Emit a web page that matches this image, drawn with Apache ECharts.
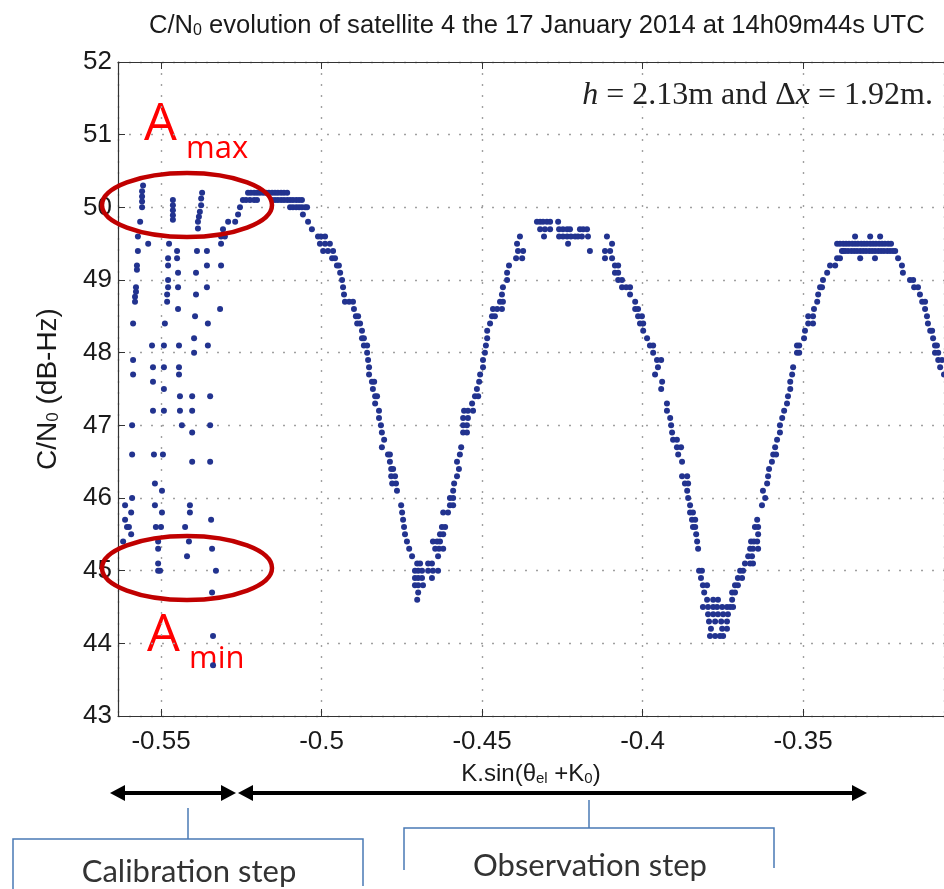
<!DOCTYPE html>
<html><head><meta charset="utf-8">
<script src="https://cdn.jsdelivr.net/npm/echarts@6/dist/echarts.min.js"></script>
<style>html,body{margin:0;padding:0;background:#fff}#c{width:944px;height:889px}</style>
</head><body><div id="c"></div>
<script>
// ---- axis settings ----
const xMin = -0.5634, xMax = -0.3061;
const yMin = 43, yMax = 52, yStep = 1;

// ---- calibration step points [K.sin(theta_el+K0), C/N0] ----
const calPoints = [
[-0.5556,50.3],[-0.5559,50.22],[-0.5559,50.15],[-0.5559,50.08],[-0.5559,50.0],[-0.5565,49.8],[-0.5572,49.6],[-0.5540,49.5],[-0.5572,49.4],[-0.5575,49.2],[-0.5575,49.14],[-0.5578,48.9],[-0.5578,48.84],[-0.5581,48.77],[-0.5581,48.7],[-0.5587,48.4],[-0.5587,47.9],[-0.5587,47.7],[-0.5590,47.0],[-0.5590,46.6],[-0.5590,46.0],[-0.5612,45.9],[-0.5593,45.8],[-0.5612,45.7],[-0.5606,45.6],[-0.5600,45.6],[-0.5593,45.5],[-0.5618,45.4],
[-0.5528,48.1],[-0.5525,47.8],[-0.5525,47.6],[-0.5525,47.2],[-0.5522,46.6],[-0.5519,46.2],[-0.5519,45.9],[-0.5516,45.6],[-0.5509,45.4],[-0.5509,45.3],[-0.5509,45.1],[-0.5509,45.0],
[-0.5491,48.1],[-0.5491,47.8],[-0.5491,47.5],[-0.5491,47.2],[-0.5494,46.6],[-0.5497,46.1],[-0.5497,45.8],[-0.5500,45.6],[-0.5503,45.0],[-0.5488,48.4],
[-0.5478,49.3],[-0.5478,49.2],[-0.5478,49.0],[-0.5478,48.9],[-0.5481,48.8],[-0.5481,48.7],[-0.5475,49.5],
[-0.5463,50.1],[-0.5463,50.03],[-0.5463,49.96],[-0.5463,49.89],[-0.5463,49.83],
[-0.5450,49.4],[-0.5450,49.3],[-0.5447,49.1],[-0.5447,48.9],[-0.5447,48.6],[-0.5444,48.1],[-0.5444,47.8],[-0.5444,47.7],[-0.5441,47.4],[-0.5441,47.2],[-0.5435,47.0],
[-0.5403,47.4],[-0.5403,47.2],[-0.5403,46.9],[-0.5403,46.5],[-0.5410,45.9],[-0.5410,45.8],[-0.5425,45.6],[-0.5413,45.4],[-0.5419,45.2],
[-0.5372,50.2],[-0.5375,50.12],[-0.5375,50.03],[-0.5379,49.94],[-0.5382,49.87],[-0.5385,49.8],[-0.5385,49.71],[-0.5388,49.4],[-0.5391,49.1],[-0.5391,48.8],[-0.5394,48.5],[-0.5397,48.2],[-0.5397,48.0],
[-0.5357,49.4],[-0.5357,49.2],[-0.5357,48.9],[-0.5354,48.4],[-0.5354,48.1],[-0.5347,47.4],[-0.5347,47.0],[-0.5347,46.5],[-0.5344,45.7],[-0.5341,45.3],[-0.5329,45.0],[-0.5341,44.7],[-0.5338,44.1],[-0.5338,43.7],
[-0.5313,49.2],[-0.5316,48.6]
];

// ---- observation step points ----
const obsPoints = [
// rise + first peak
[-0.5313,49.5],[-0.5313,49.6],[-0.5307,49.7],[-0.5301,49.6],[-0.5291,49.8],[-0.5269,49.8],[-0.5260,49.9],[-0.5254,50.0],[-0.5245,50.1],[-0.5235,50.1],[-0.5223,50.1],[-0.5210,50.1],[-0.5201,50.1],
[-0.5229,50.2],[-0.5220,50.2],[-0.5210,50.2],[-0.5201,50.2],[-0.5192,50.2],[-0.5182,50.2],[-0.5173,50.2],[-0.5164,50.2],[-0.5154,50.2],[-0.5145,50.2],[-0.5136,50.2],[-0.5126,50.2],[-0.5117,50.2],[-0.5107,50.2],
[-0.5154,50.1],[-0.5145,50.1],[-0.5136,50.1],[-0.5126,50.1],[-0.5117,50.1],[-0.5107,50.1],[-0.5098,50.1],[-0.5089,50.1],[-0.5079,50.1],[-0.5070,50.1],[-0.5061,50.1],
[-0.5098,50.0],[-0.5089,50.0],[-0.5079,50.0],[-0.5070,50.0],[-0.5061,50.0],[-0.5051,50.0],[-0.5045,50.0],
// first descent
[-0.5058,49.9],[-0.5042,49.8],[-0.5030,49.7],[-0.5011,49.6],[-0.5002,49.6],[-0.4989,49.6],[-0.5005,49.5],[-0.4989,49.5],[-0.4974,49.5],
[-0.4995,49.4],[-0.4980,49.4],[-0.4964,49.4],[-0.4967,49.3],[-0.4958,49.3],[-0.4952,49.2],[-0.4946,49.2],[-0.4942,49.1],[-0.4936,49.0],[-0.4933,48.9],[-0.4930,48.8],
[-0.4927,48.7],[-0.4914,48.7],[-0.4902,48.7],[-0.4899,48.6],[-0.4893,48.5],[-0.4886,48.5],[-0.4889,48.4],[-0.4880,48.4],[-0.4874,48.3],[-0.4874,48.2],[-0.4868,48.2],
[-0.4868,48.1],[-0.4858,48.1],[-0.4858,48.0],[-0.4855,47.9],[-0.4852,47.8],[-0.4852,47.7],[-0.4843,47.6],[-0.4836,47.6],[-0.4840,47.5],[-0.4833,47.4],[-0.4827,47.4],
[-0.4833,47.3],[-0.4821,47.2],[-0.4821,47.1],[-0.4815,47.0],[-0.4812,46.9],[-0.4805,46.8],[-0.4812,46.7],[-0.4793,46.6],[-0.4787,46.6],[-0.4787,46.5],
[-0.4783,46.4],[-0.4777,46.4],[-0.4783,46.3],[-0.4771,46.3],[-0.4780,46.2],[-0.4768,46.2],[-0.4765,46.1],[-0.4752,45.9],[-0.4749,45.8],[-0.4746,45.7],
[-0.4743,45.6],[-0.4740,45.5],[-0.4734,45.4],[-0.4727,45.3],[-0.4718,45.2],[-0.4702,45.1],[-0.4693,45.1],
[-0.4709,45.0],[-0.4699,45.0],[-0.4687,45.0],[-0.4709,44.9],[-0.4699,44.9],[-0.4687,44.9],[-0.4709,44.8],[-0.4699,44.8],[-0.4684,44.8],[-0.4699,44.7],[-0.4702,44.6],
// first rise
[-0.4668,45.1],[-0.4656,45.1],[-0.4668,45.0],[-0.4653,45.0],[-0.4637,45.0],[-0.4656,44.9],
[-0.4653,45.4],[-0.4640,45.4],[-0.4631,45.4],[-0.4646,45.3],[-0.4634,45.3],[-0.4621,45.3],[-0.4637,45.2],
[-0.4631,45.5],[-0.4621,45.5],[-0.4625,45.6],[-0.4615,45.6],[-0.4621,45.8],[-0.4606,45.8],
[-0.4600,45.9],[-0.4590,45.9],[-0.4600,46.0],[-0.4590,46.0],[-0.4590,46.1],[-0.4587,46.2],[-0.4578,46.3],[-0.4572,46.4],[-0.4578,46.5],[-0.4569,46.6],[-0.4565,46.7],
[-0.4559,46.9],[-0.4547,46.9],[-0.4559,47.0],[-0.4547,47.0],[-0.4559,47.1],[-0.4544,47.1],[-0.4556,47.2],[-0.4544,47.2],[-0.4528,47.2],[-0.4531,47.3],
[-0.4522,47.4],[-0.4512,47.4],[-0.4516,47.5],[-0.4509,47.6],[-0.4506,47.7],[-0.4497,47.8],[-0.4497,47.9],[-0.4491,48.0],[-0.4488,48.1],[-0.4484,48.2],[-0.4484,48.3],[-0.4475,48.4],
[-0.4469,48.5],[-0.4460,48.5],[-0.4466,48.6],[-0.4453,48.6],[-0.4438,48.6],[-0.4444,48.7],[-0.4435,48.7],[-0.4438,48.8],[-0.4435,48.9],[-0.4422,49.0],[-0.4422,49.1],[-0.4416,49.2],
[-0.4394,49.3],[-0.4375,49.3],[-0.4388,49.4],[-0.4372,49.4],[-0.4391,49.5],[-0.4382,49.6],
// second peak
[-0.4329,49.8],[-0.4319,49.8],[-0.4310,49.8],[-0.4298,49.8],[-0.4288,49.8],[-0.4263,49.8],
[-0.4319,49.7],[-0.4304,49.7],[-0.4288,49.7],[-0.4260,49.7],[-0.4248,49.7],[-0.4235,49.7],[-0.4226,49.7],[-0.4195,49.7],[-0.4185,49.7],[-0.4173,49.7],
[-0.4307,49.6],[-0.4260,49.6],[-0.4248,49.6],[-0.4235,49.6],[-0.4223,49.6],[-0.4210,49.6],[-0.4201,49.6],[-0.4189,49.6],[-0.4170,49.6],
[-0.4232,49.5],[-0.4164,49.4],
// second descent
[-0.4111,49.6],[-0.4095,49.5],[-0.4117,49.4],[-0.4101,49.4],[-0.4117,49.3],[-0.4095,49.3],[-0.4086,49.2],[-0.4076,49.2],[-0.4086,49.1],[-0.4076,49.1],
[-0.4076,49.0],[-0.4064,49.0],[-0.4064,48.9],[-0.4051,48.9],[-0.4039,48.9],[-0.4039,48.8],[-0.4023,48.7],[-0.4023,48.6],[-0.4014,48.6],[-0.4014,48.5],[-0.4002,48.5],
[-0.4008,48.4],[-0.3998,48.4],[-0.3998,48.3],[-0.3986,48.2],[-0.3977,48.1],[-0.3967,48.1],[-0.3967,48.0],[-0.3955,47.9],[-0.3942,47.9],[-0.3952,47.8],[-0.3961,47.7],
[-0.3939,47.6],[-0.3942,47.5],[-0.3924,47.3],[-0.3924,47.2],[-0.3914,47.1],[-0.3911,47.0],[-0.3908,46.9],[-0.3905,46.8],[-0.3893,46.8],[-0.3893,46.7],[-0.3880,46.7],
[-0.3889,46.6],[-0.3877,46.5],[-0.3877,46.3],[-0.3861,46.3],[-0.3868,46.2],[-0.3858,46.2],[-0.3861,46.1],[-0.3858,46.0],[-0.3852,45.9],[-0.3852,45.8],[-0.3843,45.8],
[-0.3846,45.7],[-0.3836,45.7],[-0.3843,45.6],[-0.3836,45.6],[-0.3833,45.5],[-0.3830,45.4],[-0.3827,45.3],[-0.3824,45.0],[-0.3815,45.0],[-0.3818,44.9],
[-0.3812,44.8],[-0.3799,44.8],[-0.3808,44.7],[-0.3799,44.6],[-0.3780,44.6],[-0.3765,44.6],[-0.3721,44.6],
[-0.3812,44.5],[-0.3796,44.5],[-0.3780,44.5],[-0.3768,44.5],[-0.3752,44.5],[-0.3737,44.5],[-0.3727,44.5],[-0.3718,44.5],
[-0.3796,44.4],[-0.3780,44.4],[-0.3765,44.4],[-0.3749,44.4],[-0.3734,44.4],
[-0.3793,44.3],[-0.3774,44.3],[-0.3755,44.3],[-0.3737,44.3],[-0.3787,44.2],[-0.3752,44.2],[-0.3737,44.2],
[-0.3790,44.1],[-0.3774,44.1],[-0.3759,44.1],[-0.3749,44.1],
// second rise
[-0.3721,44.7],[-0.3712,44.7],[-0.3712,44.8],[-0.3703,44.8],[-0.3703,44.9],[-0.3690,44.9],[-0.3696,45.0],[-0.3687,45.0],
[-0.3681,45.1],[-0.3665,45.1],[-0.3656,45.1],[-0.3671,45.2],[-0.3659,45.2],[-0.3665,45.3],[-0.3656,45.3],[-0.3640,45.3],
[-0.3662,45.4],[-0.3653,45.4],[-0.3643,45.4],[-0.3640,45.5],[-0.3650,45.6],[-0.3640,45.6],[-0.3643,45.7],
[-0.3628,45.9],[-0.3618,46.0],[-0.3625,46.1],[-0.3612,46.2],[-0.3609,46.3],[-0.3606,46.4],[-0.3597,46.5],[-0.3593,46.6],[-0.3584,46.6],[-0.3587,46.7],
[-0.3581,46.8],[-0.3572,46.9],[-0.3572,47.0],[-0.3565,47.1],[-0.3559,47.2],[-0.3550,47.3],[-0.3547,47.4],[-0.3540,47.5],[-0.3540,47.6],[-0.3534,47.7],[-0.3531,47.8],
[-0.3519,48.0],[-0.3512,48.0],[-0.3519,48.1],[-0.3512,48.1],[-0.3497,48.2],[-0.3494,48.3],[-0.3484,48.4],[-0.3469,48.4],[-0.3484,48.5],[-0.3469,48.5],
[-0.3466,48.6],[-0.3456,48.7],[-0.3453,48.8],[-0.3447,48.9],[-0.3441,48.9],[-0.3438,49.0],[-0.3425,49.1],[-0.3416,49.2],[-0.3400,49.2],[-0.3394,49.3],[-0.3385,49.3],[-0.3375,49.4],
// third peak
[-0.3338,49.6],[-0.3291,49.6],[-0.3260,49.6],
[-0.3394,49.5],[-0.3385,49.5],[-0.3375,49.5],[-0.3366,49.5],[-0.3357,49.5],[-0.3347,49.5],[-0.3338,49.5],[-0.3329,49.5],[-0.3319,49.5],[-0.3310,49.5],[-0.3301,49.5],[-0.3291,49.5],[-0.3282,49.5],[-0.3273,49.5],[-0.3263,49.5],[-0.3254,49.5],[-0.3245,49.5],[-0.3235,49.5],[-0.3226,49.5],
[-0.3379,49.4],[-0.3369,49.4],[-0.3360,49.4],[-0.3350,49.4],[-0.3341,49.4],[-0.3332,49.4],[-0.3322,49.4],[-0.3313,49.4],[-0.3304,49.4],[-0.3294,49.4],[-0.3285,49.4],[-0.3276,49.4],[-0.3266,49.4],[-0.3257,49.4],[-0.3248,49.4],[-0.3238,49.4],[-0.3229,49.4],[-0.3220,49.4],[-0.3213,49.4],
[-0.3322,49.3],[-0.3276,49.3],[-0.3204,49.3],
// third descent
[-0.3192,49.2],[-0.3189,49.1],[-0.3167,49.0],[-0.3157,49.0],[-0.3154,48.9],[-0.3142,48.9],[-0.3136,48.8],[-0.3129,48.7],[-0.3120,48.7],[-0.3120,48.6],[-0.3114,48.5],[-0.3111,48.4],
[-0.3104,48.3],[-0.3098,48.3],[-0.3095,48.2],[-0.3089,48.1],[-0.3083,48.1],[-0.3089,48.0],[-0.3079,48.0],[-0.3079,47.9],[-0.3067,47.9],[-0.3073,47.8],[-0.3061,47.7]
];

const titleMain = ' evolution of satellite 4 the 17 January 2014 at 14h09m44s UTC';
const stepLabels = ['Calibration step', 'Observation step'];

const chart = echarts.init(document.getElementById('c'), null, {renderer: 'canvas'});
const dotColor = '#22338f';
const gridLine = {show: true, lineStyle: {type: [2, 9], color: '#a0a0a0', width: 1.4}};
const txt = '#1a1a1a';
const red = '#ff0000', darkRed = '#c00000', blue = '#4a7ab5';

function arrow(x1, x2, y) {
  return [
    {type: 'line', shape: {x1: x1 + 10, y1: y, x2: x2 - 10, y2: y}, style: {stroke: '#000', lineWidth: 4}},
    {type: 'polygon', shape: {points: [[x1, y], [x1 + 15, y - 8], [x1 + 15, y + 8]]}, style: {fill: '#000'}},
    {type: 'polygon', shape: {points: [[x2, y], [x2 - 15, y - 8], [x2 - 15, y + 8]]}, style: {fill: '#000'}}
  ];
}

chart.setOption({
  animation: false,
  backgroundColor: '#fff',
  grid: {left: 118, right: 0, top: 62, bottom: 173, containLabel: false},
  xAxis: [{
    type: 'value', min: xMin, max: xMax, splitNumber: 5, position: 'bottom',
    axisLine: {show: true, onZero: false, lineStyle: {color: '#333', width: 1.2}},
    axisTick: {show: true, inside: true, length: 7, lineStyle: {color: '#333'}},
    axisLabel: {show: true, showMinLabel: false, showMaxLabel: false, fontSize: 26, color: txt, fontFamily: 'Liberation Sans', margin: 13},
    splitLine: gridLine,
    name: '{a|K.sin(\u03b8}{s|el}{a| +K}{s|0}{a|)}', nameLocation: 'middle', nameGap: 40,
    nameTextStyle: {rich: {
      a: {fontSize: 24, fontFamily: 'Liberation Sans', color: txt, lineHeight: 30, verticalAlign: 'bottom'},
      s: {fontSize: 15, fontFamily: 'Liberation Sans', color: txt, lineHeight: 16, verticalAlign: 'bottom'}
    }}
  }, {
    type: 'value', min: xMin, max: xMax, splitNumber: 5, position: 'top',
    axisLine: {show: true, onZero: false, lineStyle: {color: '#333', width: 1.2}},
    axisTick: {show: true, inside: true, length: 7, lineStyle: {color: '#333'}},
    axisLabel: {show: false}, splitLine: {show: false}
  }],
  yAxis: {
    type: 'value', min: yMin, max: yMax, interval: yStep,
    axisLine: {show: true, onZero: false, lineStyle: {color: '#333', width: 1.2}},
    axisTick: {show: true, inside: true, length: 7, lineStyle: {color: '#333'}},
    axisLabel: {fontSize: 26, color: txt, fontFamily: 'Liberation Sans', margin: 6},
    splitLine: gridLine,
    name: '{a|C/N}{s|0}{a| (dB-Hz)}', nameLocation: 'middle', nameRotate: 90, nameGap: 56,
    nameTextStyle: {rich: {
      a: {fontSize: 28, fontFamily: 'Liberation Sans', color: txt, lineHeight: 34, verticalAlign: 'bottom'},
      s: {fontSize: 17, fontFamily: 'Liberation Sans', color: txt, lineHeight: 18, verticalAlign: 'bottom'}
    }}
  },
  series: [{
    name: 'calibration', type: 'scatter', xAxisIndex: 0, yAxisIndex: 0, data: calPoints,
    symbol: 'circle', symbolSize: 6, itemStyle: {color: dotColor, opacity: 1}, silent: true
  }, {
    name: 'observation', type: 'scatter', xAxisIndex: 0, yAxisIndex: 0, data: obsPoints,
    symbol: 'circle', symbolSize: 6, itemStyle: {color: dotColor, opacity: 1}, silent: true
  }],
  graphic: [
    {type: 'text', x: 149, y: 24, style: {
      text: '{a|C/N}{s|0}{a|' + titleMain + '}', align: 'left', verticalAlign: 'middle',
      rich: {
        a: {fontSize: 25.6, fontFamily: 'Liberation Sans', fill: txt, lineHeight: 30, verticalAlign: 'bottom'},
        s: {fontSize: 16, fontFamily: 'Liberation Sans', fill: txt, lineHeight: 15, verticalAlign: 'bottom'}
      }}},
    {type: 'text', x: 933, y: 96, z: 10, style: {
      text: '{i|h}{n| = 2.13m and \u0394}{i|x}{n| = 1.92m.}', align: 'right', verticalAlign: 'middle',
      rich: {
        i: {fontSize: 32, fontFamily: 'Liberation Serif', fontStyle: 'italic', fill: '#222'},
        n: {fontSize: 32, fontFamily: 'Liberation Serif', fill: '#222'}
      }}},
    {type: 'ellipse', shape: {cx: 187, cy: 205, rx: 85, ry: 32}, style: {fill: 'none', stroke: darkRed, lineWidth: 4.5}, z: 20},
    {type: 'ellipse', shape: {cx: 187, cy: 568, rx: 85, ry: 32}, style: {fill: 'none', stroke: darkRed, lineWidth: 4.5}, z: 20},
    {type: 'text', x: 144, y: 151, style: {text: 'A', fontSize: 52, fontFamily: 'Open Sans', fill: red, align: 'left', verticalAlign: 'bottom'}},
    {type: 'text', x: 186, y: 165, style: {text: 'max', fontSize: 31, fontFamily: 'Open Sans', fill: red, align: 'left', verticalAlign: 'bottom'}},
    {type: 'text', x: 147, y: 662, style: {text: 'A', fontSize: 52, fontFamily: 'Open Sans', fill: red, align: 'left', verticalAlign: 'bottom'}},
    {type: 'text', x: 189, y: 675, style: {text: 'min', fontSize: 31, fontFamily: 'Open Sans', fill: red, align: 'left', verticalAlign: 'bottom'}},
    ...arrow(110, 236, 793),
    ...arrow(238, 867, 793),
    {type: 'polyline', shape: {points: [[188, 808], [188, 839]]}, style: {stroke: blue, lineWidth: 1.5, fill: null}},
    {type: 'polyline', shape: {points: [[13, 889], [13, 839], [363, 839], [363, 886]]}, style: {stroke: blue, lineWidth: 1.5, fill: null}},
    {type: 'polyline', shape: {points: [[589, 800], [589, 828]]}, style: {stroke: blue, lineWidth: 1.5, fill: null}},
    {type: 'polyline', shape: {points: [[404, 870], [404, 828], [774, 828], [774, 868]]}, style: {stroke: blue, lineWidth: 1.5, fill: null}},
    {type: 'text', x: 189, y: 872, style: {text: stepLabels[0], fontSize: 31, fontFamily: 'Lato', fill: '#333', align: 'center', verticalAlign: 'middle'}},
    {type: 'text', x: 590, y: 866, style: {text: stepLabels[1], fontSize: 31, fontFamily: 'Lato', fill: '#333', align: 'center', verticalAlign: 'middle'}}
  ]
});
</script>
</body></html>
